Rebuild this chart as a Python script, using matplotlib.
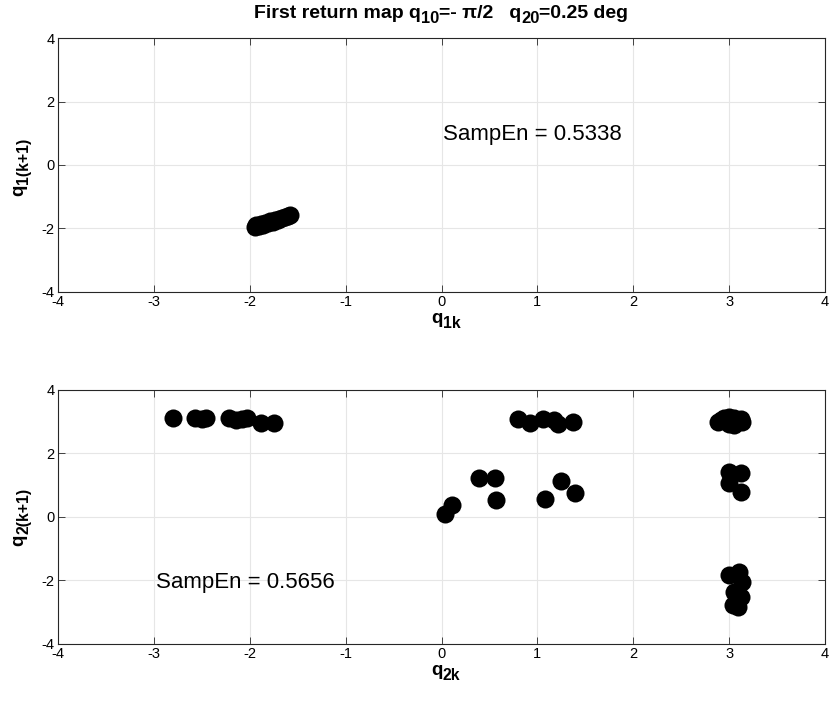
import matplotlib
matplotlib.use("Agg")
import matplotlib.pyplot as plt
from matplotlib.transforms import IdentityTransform

plt.rcParams['font.family'] = ['Liberation Sans', 'DejaVu Sans']
plt.rcParams['axes.unicode_minus'] = False

# Top panel: q1(k) vs q1(k+1)
q1k = [-1.95, -1.93, -1.90, -1.88, -1.86, -1.84, -1.81, -1.79, -1.76, -1.74,
       -1.71, -1.69, -1.66, -1.63, -1.60, -1.58]
q1k1 = [-1.94, -1.90, -1.93, -1.86, -1.89, -1.82, -1.84, -1.77, -1.80, -1.73,
        -1.74, -1.69, -1.67, -1.63, -1.61, -1.58]
sampen1 = "SampEn = 0.5338"

# Bottom panel: q2(k) vs q2(k+1)
q2k = [-2.80, -2.57, -2.50, -2.46, -2.22, -2.14, -2.08, -2.03, -1.88, -1.75,
       0.80, 0.92, 1.06, 1.17, 1.22, 1.37,
       0.04, 0.11, 0.39, 0.56, 0.57, 1.08, 1.25, 1.39,
       2.88, 2.95, 3.00, 3.05, 3.10, 3.13, 3.00, 3.05, 2.92, 3.12,
       3.00, 3.12, 3.00, 3.12,
       3.00, 3.10, 3.13, 3.05, 3.12, 3.09, 3.04]
q2k1 = [3.11, 3.11, 3.10, 3.11, 3.13, 3.04, 3.10, 3.11, 2.95, 2.96,
        3.08, 2.97, 3.08, 3.05, 2.93, 2.98,
        0.09, 0.38, 1.22, 1.22, 0.54, 0.56, 1.14, 0.77,
        3.00, 3.12, 3.15, 3.12, 3.06, 3.00, 2.93, 2.90, 3.05, 3.10,
        1.43, 1.38, 1.06, 0.80,
        -1.83, -1.72, -2.04, -2.35, -2.51, -2.83, -2.78]
sampen2 = "SampEn = 0.5656"

title_pieces = [("First return map q", 0), ("10", 1), ("=- \u03c0/2   q", 0),
                ("20", 1), ("=0.25 deg", 0)]
xlabel1 = [("q", 0), ("1k", 1)]
ylabel1 = [("q", 0), ("1(k+1)", 1)]
xlabel2 = [("q", 0), ("2k", 1)]
ylabel2 = [("q", 0), ("2(k+1)", 1)]

ticks = [-4, -3, -2, -1, 0, 1, 2, 3, 4]
yticks = [-4, -2, 0, 2, 4]

W, H = 831, 708
fig = plt.figure(figsize=(W / 100, H / 100), dpi=100)
renderer = fig.canvas.get_renderer()
ax1 = fig.add_axes([0.0698, 0.5876, 0.923, 0.3587])
ax2 = fig.add_axes([0.0698, 0.0904, 0.923, 0.3588])


def rich(pieces, cx, cy, size, subscale=0.82, suboff=5, vertical=False):
    """Draw text pieces with subscripts centred at pixel (cx, cy) (image coords, y down)."""
    widths = []
    for s, sub in pieces:
        t = fig.text(0, 0, s, fontsize=size * (subscale if sub else 1),
                     fontweight='bold', transform=IdentityTransform())
        widths.append(t.get_window_extent(renderer).width)
        t.remove()
    total = sum(widths)
    pos = -total / 2
    for (s, sub), w in zip(pieces, widths):
        fs = size * (subscale if sub else 1)
        off = suboff if sub else 0
        if not vertical:
            x = cx + pos
            y = H - (cy + off)
            fig.text(x, y, s, fontsize=fs, fontweight='bold', ha='left',
                     va='baseline', transform=IdentityTransform())
        else:
            x = cx + off
            y = H - cy + pos
            fig.text(x, y, s, fontsize=fs, fontweight='bold', ha='left',
                     va='baseline', rotation=90, rotation_mode='anchor',
                     transform=IdentityTransform())
        pos += w


def style(ax):
    ax.set_xlim(-4, 4)
    ax.set_ylim(-4, 4)
    ax.set_xticks(ticks)
    ax.set_yticks(yticks)
    ax.grid(True, color='#e6e6e6', linewidth=0.8)
    ax.set_axisbelow(True)
    ax.tick_params(direction='in', top=True, right=True, labelsize=10.5,
                   length=5, color='#262626', width=0.6, pad=2.5)
    for s in ax.spines.values():
        s.set_color('#262626')
        s.set_linewidth(0.8)


ax1.plot(q1k, q1k1, 'o', color='black', markersize=13, markeredgewidth=0)
style(ax1)
ax1.text(0.02, 0.95, sampen1, fontsize=16, va='center', ha='left')

ax2.plot(q2k, q2k1, 'o', color='black', markersize=13, markeredgewidth=0)
style(ax2)
ax2.text(-2.98, -2.05, sampen2, fontsize=16, va='center', ha='left')

rich(title_pieces, 441, 18, 14, subscale=0.85, suboff=5)
rich(xlabel1, 446, 323, 13.5, subscale=0.85, suboff=5)
rich(xlabel2, 446, 675, 13.5, subscale=0.85, suboff=5)
rich(ylabel1, 23, 167, 13.5, subscale=0.85, suboff=5, vertical=True)
rich(ylabel2, 23, 517, 13.5, subscale=0.85, suboff=5, vertical=True)

fig.savefig('out.png', dpi=100)
